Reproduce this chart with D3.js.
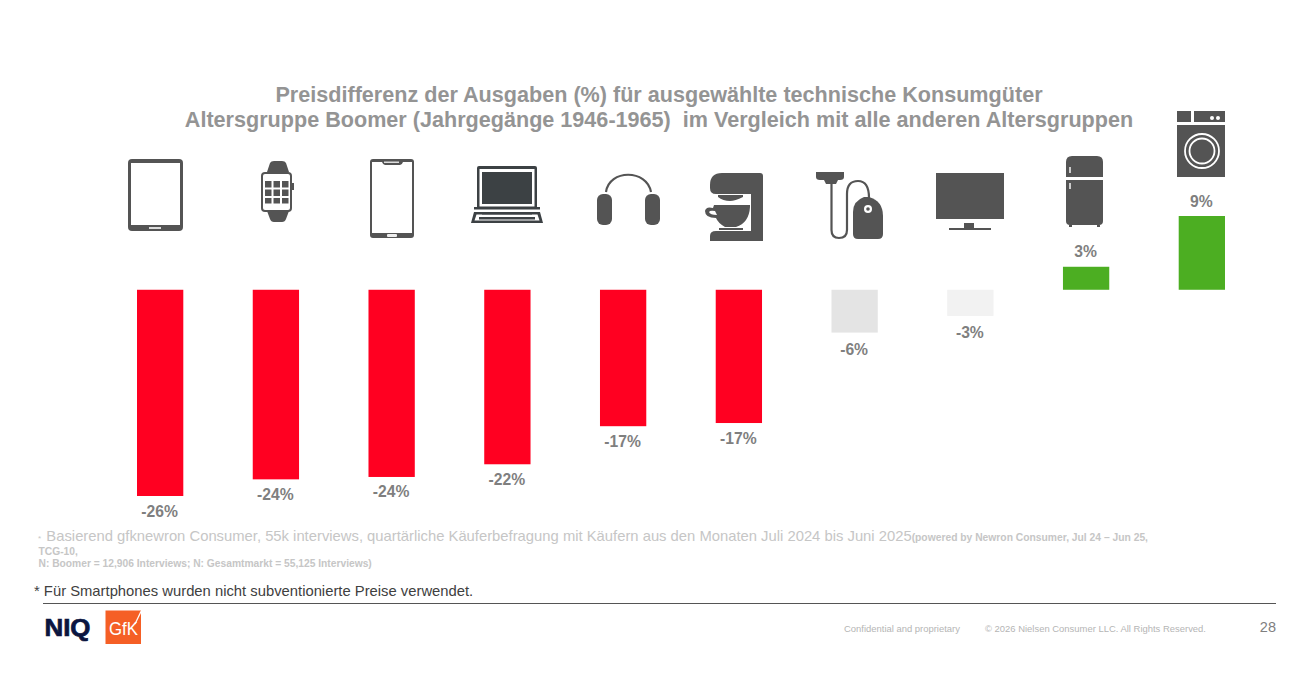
<!DOCTYPE html>
<html lang="de">
<head>
  <meta charset="UTF-8">
  <title>Preisdifferenz Boomer</title>
  <script src="https://d3js.org/d3.v7.min.js"></script>
  <style>
    html, body { margin: 0; padding: 0; background: #fff; overflow: hidden; }
    svg { display: block; }
    text { font-family: "Liberation Sans", Arial, sans-serif; }
    .title { font-size: 21.6px; font-weight: bold; fill: #949494; text-anchor: middle; }
    .val { font-size: 15.7px; font-weight: bold; fill: #7f7f7f; text-anchor: middle; }
    .src { fill: #c6c6c6; }
  </style>
</head>
<body>
<svg width="1312" height="679"></svg>
<script>
  const categories = ["Tablet", "Smartwatch", "Smartphone", "Laptop", "Kopfhörer", "Küchenmaschine", "Staubsauger", "TV", "Kühlschrank", "Waschmaschine"];
  // bar lengths, the printed labels are not always the rounded value
  const values = [-26, -23.9, -23.6, -22, -17.2, -16.8, -5.4, -3.3, 2.9, 9.3];
  const valueLabels = ["-26%", "-24%", "-24%", "-22%", "-17%", "-17%", "-6%", "-3%", "3%", "9%"];
  const titleLines = [
    "Preisdifferenz der Ausgaben (%) für ausgewählte technische Konsumgüter",
    "Altersgruppe Boomer (Jahrgegänge 1946-1965)  im Vergleich mit alle anderen Altersgruppen"
  ];

  const svg = d3.select("svg");
  const iconColor = "#545454";

  const x = d3.scaleBand().domain(categories).range([137, 1225]).paddingInner(0.6).paddingOuter(0);
  const y = d3.scaleLinear().domain([-26, 9.3]).range([496, 216]);
  const color = d3.scaleThreshold().domain([-10, -4, 0]).range(["#ff0021", "#e4e4e4", "#f2f2f2", "#4cae22"]);

  // title
  svg.selectAll(".title").data(titleLines).join("text")
    .attr("class", "title")
    .attr("x", 659)
    .attr("y", (d, i) => 102 + i * 25)
    .style("white-space", "pre")
    .text(d => d);

  // bars
  svg.append("g").selectAll("rect").data(values).join("rect")
    .attr("x", (d, i) => x(categories[i]))
    .attr("width", x.bandwidth())
    .attr("y", d => Math.min(y(d), y(0)))
    .attr("height", d => Math.abs(y(d) - y(0)))
    .attr("fill", d => color(d));

  // the two short grey bars carry their labels a little lower
  svg.append("g").selectAll("text").data(values).join("text")
    .attr("class", "val")
    .attr("x", (d, i) => x(categories[i]) + x.bandwidth() / 2 - 0.5)
    .attr("y", d => d < 0 ? y(d) + (d > -10 ? 22 : 20.5) : y(d) - 9.5)
    .text((d, i) => valueLabels[i]);

  // icons, each drawn in its own local coordinates
  function icon(left, top) {
    return svg.append("g").attr("transform", `translate(${left},${top})`).attr("fill", iconColor);
  }
  const box = (g, px, py, w, h, fill, r) => g.append("rect").attr("x", px).attr("y", py).attr("width", w).attr("height", h).attr("rx", r || 0).attr("fill", fill || iconColor);
  const shape = (g, d, fill) => g.append("path").attr("d", d).attr("fill", fill || iconColor);
  const stroke = (g, d, w, col) => g.append("path").attr("d", d).attr("fill", "none").attr("stroke", col || iconColor).attr("stroke-width", w);

  // tablet
  let g = icon(128, 159);
  box(g, 0, 0, 55, 72, iconColor, 4);
  box(g, 3, 4, 49, 62, "#fff");
  box(g, 21, 68, 12, 2, "#ddd");

  // watch
  g = icon(261, 161);
  shape(g, "M6,11 L9,2 Q10,0 13,0 L21,0 Q24,0 25,2 L28,11 Z");
  shape(g, "M6,50 L9,58 Q10,61 13,61 L21,61 Q24,61 25,58 L28,50 Z");
  box(g, 0, 11, 31, 40, iconColor, 4);
  box(g, 2, 13, 27, 36, "#fff", 2);
  box(g, 31, 22, 2, 7);
  [20, 28.5, 37].forEach((ry, r) => [4, 12.5, 21].forEach(cx => box(g, cx, ry, 6.5, r == 2 ? 5.5 : 6.5)));

  // phone
  g = icon(370, 159);
  box(g, 0, 0, 44, 79, iconColor, 3);
  shape(g, "M2,3 L12,3 Q13,6 15,6 L30,6 Q32,6 33,3 L42,3 L42,74 L2,74 Z", "#fff");
  box(g, 17, 75, 10, 3, "#eee", 1);
  box(g, 14, 2.5, 15, 1.5, "#ddd");

  // laptop
  g = icon(471, 166);
  box(g, 6, 0, 60, 43, "#3c4144", 2);
  box(g, 8.5, 3, 55, 37.5, "#fff");
  box(g, 11, 6, 50, 32, "#3c4144");
  box(g, 3, 41, 66, 2.5, "#3c4144");
  shape(g, "M3,46 L69,46 L72,57 L0,57 Z", "#3c4144");
  shape(g, "M5.5,48.5 L66.5,48.5 L68.5,54.5 L3.5,54.5 Z", "#fff");
  box(g, 11, 46, 50, 2.5, "#3c4144");
  box(g, 8, 51, 56, 2.5, "#3c4144");

  // headphones
  g = icon(597, 173);
  stroke(g, "M9,19 C12,-4 50,-4 54,19", 2.2);
  box(g, 0, 21, 15, 31, iconColor, 6);
  box(g, 48, 21, 15, 31, iconColor, 6);

  // mixer
  g = icon(705, 173);
  shape(g, "M17,0 L55,0 Q58,0 58,3 L58,68 L5,68 L5,63 Q5,58 11,58 L46,58 L46,21 L11,21 Q5,21 5,15 L5,12 Q5,0 17,0 Z");
  shape(g, "M13,22 L38,22 L38,24 Q30,28 25,28 Q18,28 13,24 Z");
  shape(g, "M9,32 L45,32 L45,34 Q44,50 31,54 L20,54 Q13,50 11,45 Q0,45 0,38 Q1,33 8,35 Z");
  shape(g, "M10,38 Q5,37 4,39 Q5,42 12,42 Z", "#fff");
  box(g, 14, 55, 24, 2);

  // vacuum
  g = icon(816, 172);
  shape(g, "M0,0 L28,0 L28,5 Q28,8 24,8 L22,8 L20,12 L10,12 L8,8 L4,8 Q0,8 0,5 Z");
  stroke(g, "M15.5,12 L15.5,58 Q15.5,66 23,66 Q31,66 31,58 L31,22 Q31,9 42,9 Q53,9 53,26", 2.2);
  shape(g, "M48,25 L53,25 Q67,29 67,44 L67,62 Q67,67 62,67 L42,67 Q37,67 37,62 L37,40 Q37,29 48,25 Z");
  g.append("circle").attr("cx", 52).attr("cy", 37).attr("r", 4).attr("fill", "#fff");
  g.append("circle").attr("cx", 52).attr("cy", 37).attr("r", 1.8).attr("fill", iconColor);

  // tv
  g = icon(936, 173);
  box(g, 0, 0, 68, 46);
  box(g, 28, 50, 10, 5);
  box(g, 13, 55, 42, 2);

  // fridge
  g = icon(1066, 156);
  shape(g, "M6,0 L31,0 Q37,0 37,6 L37,21 L0,21 L0,6 Q0,0 6,0 Z");
  shape(g, "M0,24 L37,24 L37,65 Q37,69 33,69 L4,69 Q0,69 0,65 Z");
  box(g, 3, 69, 3, 2);
  box(g, 31, 69, 3, 2);
  box(g, 3, 11, 2, 6, "#ccc");
  box(g, 3, 27, 2, 6, "#ccc");

  // washer
  g = icon(1177, 111);
  box(g, 0, 0, 14, 11);
  box(g, 17, 0, 31, 11);
  g.append("circle").attr("cx", 35).attr("cy", 7).attr("r", 2).attr("fill", "#fff");
  g.append("circle").attr("cx", 41).attr("cy", 7).attr("r", 2).attr("fill", "#fff");
  box(g, 0, 14, 48, 52);
  g.append("circle").attr("cx", 25).attr("cy", 40).attr("r", 17).attr("fill", "none").attr("stroke", "#fff").attr("stroke-width", 1.8);
  g.append("circle").attr("cx", 25).attr("cy", 40).attr("r", 12.5).attr("fill", "none").attr("stroke", "#fff").attr("stroke-width", 1.8);

  // source notes
  const src = svg.append("text").attr("class", "src").attr("x", 38).attr("y", 541);
  src.append("tspan").attr("font-size", 8).text("* ");
  src.append("tspan").attr("font-size", 14.8).attr("dx", 3).text("Basierend gfknewron Consumer, 55k interviews, quartärliche Käuferbefragung mit Käufern aus den Monaten Juli 2024 bis Juni 2025");
  src.append("tspan").attr("font-size", 10.3).attr("font-weight", "bold").text("(powered by Newron Consumer, Jul 24 – Jun 25,");
  svg.append("text").attr("class", "src").attr("x", 38.5).attr("y", 555).attr("font-size", 10.25).attr("font-weight", "bold").text("TCG-10,");
  svg.append("text").attr("class", "src").attr("x", 38.5).attr("y", 567).attr("font-size", 10.25).attr("font-weight", "bold").text("N: Boomer = 12,906 Interviews; N: Gesamtmarkt = 55,125 Interviews)");

  svg.append("text").attr("x", 34).attr("y", 596).attr("font-size", 14.8).attr("fill", "#404040").text("* Für Smartphones wurden nicht subventionierte Preise verwendet.");

  svg.append("line").attr("x1", 43).attr("x2", 1276).attr("y1", 603.5).attr("y2", 603.5).attr("stroke", "#555").attr("stroke-width", 1);

  // logos
  svg.append("text").attr("x", 44.5).attr("y", 636).attr("font-size", 24).attr("font-weight", "bold")
    .attr("textLength", 46).attr("lengthAdjust", "spacingAndGlyphs")
    .attr("fill", "#0b1540").attr("stroke", "#0b1540").attr("stroke-width", 0.7).text("NIQ");
  svg.append("rect").attr("x", 105.5).attr("y", 610.5).attr("width", 35.5).attr("height", 33.5).attr("fill", "#f55f25");
  svg.append("text").attr("x", 109).attr("y", 635).attr("font-size", 18)
    .attr("textLength", 29).attr("lengthAdjust", "spacingAndGlyphs")
    .attr("fill", "#fff").text("GfK");
  svg.append("line").attr("x1", 135).attr("y1", 624).attr("x2", 141.5).attr("y2", 610.5).attr("stroke", "#fff").attr("stroke-width", 1.3);

  // footer
  svg.append("text").attr("x", 844).attr("y", 632).attr("font-size", 9.45).attr("fill", "#b5b5b5").text("Confidential and proprietary");
  svg.append("text").attr("x", 985).attr("y", 632).attr("font-size", 9.45).attr("fill", "#b5b5b5").text("© 2026 Nielsen Consumer LLC. All Rights Reserved.");
  svg.append("text").attr("x", 1276).attr("y", 632).attr("text-anchor", "end").attr("font-size", 14.5).attr("fill", "#7f7f7f").text("28");
</script>
</body>
</html>
